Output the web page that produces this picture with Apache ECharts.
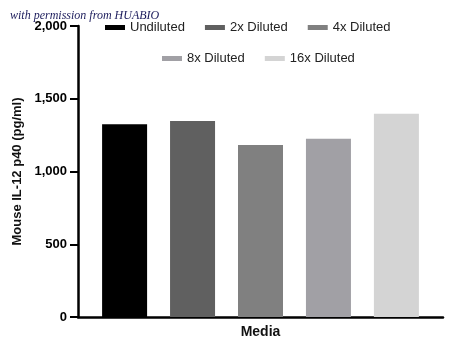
<!DOCTYPE html>
<html>
<head>
<meta charset="utf-8">
<script src="https://cdn.jsdelivr.net/npm/echarts@6/dist/echarts.min.js"></script>
<style>
  html, body { margin: 0; padding: 0; background: #fff; }
  #chart { width: 450px; height: 352px; }
</style>
</head>
<body>
<div id="chart"></div>
<script>
const categories = ['Media']
const seriesNames = ['Undiluted', '2x Diluted', '4x Diluted', '8x Diluted', '16x Diluted']
const seriesValues = [[1324], [1347], [1182], [1225], [1397]]
const seriesColors = ['#000000', '#606060', '#808080', '#a1a0a5', '#d4d4d4']
const yTicks = [0, 500, 1000, 1500, 2000]

const chart = echarts.init(document.getElementById('chart'))

const legendText = { color: '#222', fontFamily: 'Liberation Sans, Arial', fontSize: 13 }

chart.setOption({
  animation: false,
  graphic: [{
    type: 'text',
    left: 10,
    top: 10,
    z: 10,
    style: {
      text: 'with permission from HUABIO',
      fill: '#1c1c5c',
      font: 'italic 12px "Liberation Serif", serif'
    }
  }],
  legend: [
    {
      data: seriesNames.slice(0, 3),
      left: 100,
      top: 16,
      icon: 'rect',
      itemWidth: 20,
      itemHeight: 5,
      itemGap: 20,
      textStyle: legendText
    },
    {
      data: seriesNames.slice(3),
      left: 157,
      top: 47,
      icon: 'rect',
      itemWidth: 20,
      itemHeight: 5,
      itemGap: 20,
      textStyle: legendText
    }
  ],
  grid: { left: 78, right: 7, top: 26, bottom: 35 },
  xAxis: {
    type: 'category',
    data: categories,
    axisLine: { lineStyle: { color: '#000', width: 2.5 } },
    axisTick: { show: false },
    axisLabel: { show: false },
    name: categories[0],
    nameLocation: 'middle',
    nameGap: 8,
    nameTextStyle: { color: '#111', fontWeight: 'bold', fontSize: 14, fontFamily: 'Liberation Sans, Arial' }
  },
  yAxis: {
    type: 'value',
    min: yTicks[0],
    max: yTicks[yTicks.length - 1],
    interval: 500,
    name: 'Mouse IL-12 p40 (pg/ml)',
    nameLocation: 'middle',
    nameRotate: 90,
    nameGap: 49,
    nameTextStyle: { color: '#111', fontWeight: 'bold', fontSize: 13, fontFamily: 'Liberation Sans, Arial' },
    axisLine: { show: true, lineStyle: { color: '#000', width: 2.5 } },
    axisTick: { show: true, length: 8, lineStyle: { color: '#000', width: 2 } },
    axisLabel: {
      color: '#000',
      fontWeight: 'bold',
      fontSize: 13,
      fontFamily: 'Liberation Sans, Arial',
      margin: 11,
      formatter: (v) => v.toLocaleString('en-US')
    },
    splitLine: { show: false }
  },
  series: seriesNames.map((name, i) => ({
    name,
    type: 'bar',
    data: seriesValues[i],
    barWidth: 45,
    barGap: '51%',
    itemStyle: { color: seriesColors[i] }
  }))
})
</script>
</body>
</html>
